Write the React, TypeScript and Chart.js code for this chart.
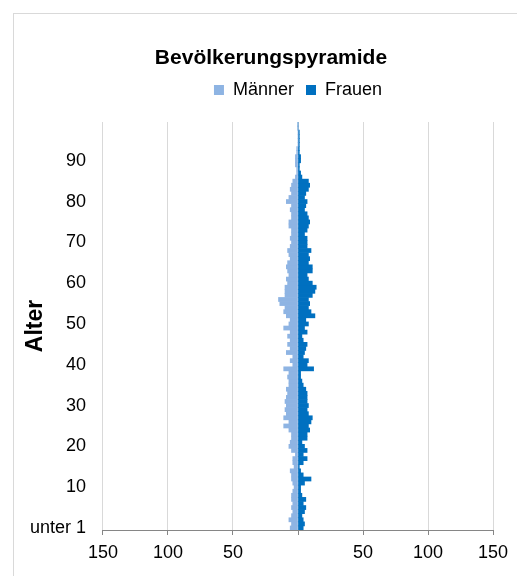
import React, { useEffect, useRef } from 'react';
import { Chart, registerables } from 'chart.js';

Chart.register(...registerables);

const FONT = "'Liberation Sans', Arial, Helvetica, sans-serif";

const CHART_TITLE = 'Bevölkerungspyramide';
const AXIS_TITLE = 'Alter';
const SERIES_MEN = 'Männer';
const SERIES_WOMEN = 'Frauen';

const AGE_LABELS: string[] = [
  'unter 1', '1', '2', '3', '4', '5', '6', '7', '8', '9',
  '10', '11', '12', '13', '14', '15', '16', '17', '18', '19',
  '20', '21', '22', '23', '24', '25', '26', '27', '28', '29',
  '30', '31', '32', '33', '34', '35', '36', '37', '38', '39',
  '40', '41', '42', '43', '44', '45', '46', '47', '48', '49',
  '50', '51', '52', '53', '54', '55', '56', '57', '58', '59',
  '60', '61', '62', '63', '64', '65', '66', '67', '68', '69',
  '70', '71', '72', '73', '74', '75', '76', '77', '78', '79',
  '80', '81', '82', '83', '84', '85', '86', '87', '88', '89',
  '90', '91', '92', '93', '94', '95', '96', '97', '98', '99',
];

// counts per age (men shown to the left)
const MEN: number[] = [
  6, 5, 7, 5, 4, 5, 4, 5, 5, 4,
  3, 4, 5, 5, 6, 3, 4, 4, 2, 5,
  7, 6, 5, 5, 7, 11, 7, 11, 9, 10,
  9, 10, 9, 8, 9, 7, 7, 8, 7, 11,
  4, 6, 4, 9, 6, 8, 6, 8, 6, 11,
  7, 6, 9, 11, 10, 14, 15, 10, 10, 10,
  8, 9, 7, 8, 9, 8, 6, 7, 8, 6,
  5, 6, 5, 5, 7, 7, 5, 5, 6, 5,
  9, 7, 5, 6, 5, 4, 2, 1, 1, 2,
  2, 2, 1, 1, 0, 0, 0, 0, 0, 0,
];

const WOMEN: number[] = [
  4, 5, 4, 3, 5, 6, 4, 6, 3, 2,
  2, 5, 10, 4, 2, 1, 4, 7, 4, 7,
  5, 3, 7, 7, 9, 8, 10, 11, 8, 7,
  8, 7, 7, 7, 6, 4, 3, 2, 2, 12,
  7, 8, 4, 5, 6, 7, 4, 3, 7, 5,
  8, 6, 13, 10, 8, 9, 8, 11, 13, 14,
  11, 8, 7, 11, 11, 8, 9, 8, 10, 7,
  7, 7, 5, 7, 8, 9, 8, 7, 5, 6,
  7, 5, 6, 8, 9, 8, 3, 2, 1, 1,
  2, 2, 1, 1, 1, 1, 1, 1, 0, 0,
];

const X_MIN = -150;
const X_MAX = 150;
const X_STEP = 50;
const LABEL_EVERY = 10;

export default function App() {
  const ref = useRef<HTMLCanvasElement>(null);

  useEffect(() => {
    if (!ref.current) return;
    const chart = new Chart(ref.current, {
      type: 'bar',
      data: {
        labels: AGE_LABELS,
        datasets: [
          {
            label: SERIES_MEN,
            data: MEN.map((v) => -v),
            backgroundColor: '#8EB4E3',
            borderWidth: 0,
            barPercentage: 1,
            categoryPercentage: 1,
          },
          {
            label: SERIES_WOMEN,
            data: WOMEN,
            backgroundColor: '#0070C0',
            borderWidth: 0,
            barPercentage: 1,
            categoryPercentage: 1,
          },
        ],
      },
      options: {
        indexAxis: 'y',
        responsive: false,
        animation: false,
        layout: { padding: { left: 35, right: 35, top: 0, bottom: 23.4 } },
        plugins: {
          title: {
            display: true,
            text: CHART_TITLE,
            color: '#000',
            font: { family: FONT, size: 21, weight: 'bold', lineHeight: 1 },
            padding: { top: 34, bottom: 0 },
          },
          subtitle: {
            display: true,
            text: '',
            weight: 500,
            font: { family: FONT, size: 1, lineHeight: 1 },
            padding: { top: 12, bottom: 0 },
          },
          legend: {
            display: true,
            position: 'top',
            fullSize: false,
            labels: {
              boxWidth: 10,
              boxHeight: 10,
              padding: 12,
              color: '#000',
              font: { family: FONT, size: 18 },
            },
          },
          tooltip: { enabled: false },
        },
        scales: {
          x: {
            type: 'linear',
            stacked: true,
            min: X_MIN,
            max: X_MAX,
            ticks: {
              stepSize: X_STEP,
              autoSkip: false,
              maxRotation: 0,
              padding: 7,
              color: '#000',
              font: { family: FONT, size: 18 },
              callback: (v: any) => (Number(v) === 0 ? '' : String(Math.abs(Number(v)))),
            },
            grid: {
              color: '#D9D9D9',
              tickColor: '#868686',
              tickLength: 5,
              drawTicks: true,
            },
            border: { display: true, color: '#868686', width: 1 },
          },
          y: {
            type: 'category',
            stacked: true,
            reverse: true,
            grid: { display: false, drawTicks: false },
            border: { display: false },
            ticks: {
              autoSkip: false,
              mirror: true,
              crossAlign: 'far',
              padding: -73,
              color: '#000',
              font: { family: FONT, size: 18 },
              callback: (_v: any, i: number) => (i % LABEL_EVERY === 0 ? AGE_LABELS[i] : ''),
            },
            title: {
              display: true,
              text: AXIS_TITLE,
              color: '#000',
              font: { family: FONT, size: 23, weight: 'bold', lineHeight: 1.2 },
              padding: { top: -26.8, bottom: 199.2 },
            },
          },
        },
      } as any,
    });
    return () => chart.destroy();
  }, []);

  return (
    <div
      style={{
        position: 'fixed',
        left: 0,
        top: 0,
        width: 517,
        height: 576,
        overflow: 'hidden',
        background: '#fff',
      }}
    >
      <div
        style={{
          position: 'absolute',
          left: 13,
          top: 13,
          width: 514,
          height: 580,
          border: '1px solid #D9D9D9',
        }}
      >
        <canvas ref={ref} width={514} height={580} style={{ display: 'block', width: 514, height: 580 }} />
      </div>
    </div>
  );
}
